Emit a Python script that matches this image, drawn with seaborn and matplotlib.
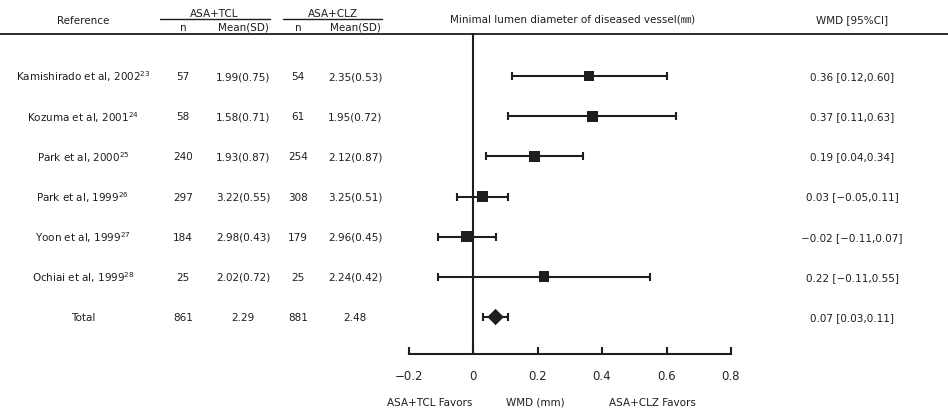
import numpy as np
import pandas as pd
import matplotlib
matplotlib.use("Agg")
import matplotlib.pyplot as plt
import matplotlib.transforms as mtransforms
from matplotlib.lines import Line2D
import seaborn as sns

# Study table
studies = ["Kamishirado et al, 2002$^{23}$", "Kozuma et al, 2001$^{24}$",
           "Park et al, 2000$^{25}$", "Park et al, 1999$^{26}$",
           "Yoon et al, 1999$^{27}$", "Ochiai et al, 1999$^{28}$", "Total"]
n_tcl = [57, 58, 240, 297, 184, 25, 861]
mean_tcl = ["1.99(0.75)", "1.58(0.71)", "1.93(0.87)", "3.22(0.55)",
            "2.98(0.43)", "2.02(0.72)", "2.29"]
n_clz = [54, 61, 254, 308, 179, 25, 881]
mean_clz = ["2.35(0.53)", "1.95(0.72)", "2.12(0.87)", "3.25(0.51)",
            "2.96(0.45)", "2.24(0.42)", "2.48"]

# Weighted mean differences with 95% CI
wmd = [0.36, 0.37, 0.19, 0.03, -0.02, 0.22, 0.07]
ci_lo = [0.12, 0.11, 0.04, -0.05, -0.11, -0.11, 0.03]
ci_hi = [0.60, 0.63, 0.34, 0.11, 0.07, 0.55, 0.11]
ci_text = ["0.36 [0.12,0.60]", "0.37 [0.11,0.63]", "0.19 [0.04,0.34]",
           "0.03 [\u22120.05,0.11]", "\u22120.02 [\u22120.11,0.07]",
           "0.22 [\u22120.11,0.55]", "0.07 [0.03,0.11]"]

xticks = [-0.2, 0, 0.2, 0.4, 0.6, 0.8]
xtick_labels = ["\u22120.2", "0", "0.2", "0.4", "0.6", "0.8"]

sns.set_theme(style="white")
plt.rcParams["font.family"] = ["DejaVu Sans", "Noto Sans CJK JP"]
plt.rcParams["mathtext.fontset"] = "dejavusans"

W, H = 948, 410
fig = plt.figure(figsize=(W / 100, H / 100), dpi=100)

# forest axes in pixel geometry
ax_l, ax_r, ax_t, ax_b = 400, 760, 34, 355
ax = fig.add_axes([ax_l / W, 1 - ax_b / H, (ax_r - ax_l) / W, (ax_b - ax_t) / H])
px_per_unit = 322.5
x0_px = 473
ax.set_xlim((ax_l - x0_px) / px_per_unit, (ax_r - x0_px) / px_per_unit)
row_sp = 40.17
ax.set_ylim((ax_b - 77) / row_sp, (ax_t - 77) / row_sp)

df = pd.DataFrame({"study": studies, "wmd": wmd, "lo": ci_lo, "hi": ci_hi,
                   "row": np.arange(len(studies)),
                   "kind": ["study"] * 6 + ["total"]})

ink = "#1e1e1e"
ax.axvline(0, color=ink, lw=1.5, zorder=1)
ax.errorbar(df["wmd"], df["row"],
            xerr=[df["wmd"] - df["lo"], df["hi"] - df["wmd"]],
            fmt="none", ecolor=ink, elinewidth=1.5, capsize=2.7,
            capthick=1.5, zorder=2)
sns.scatterplot(data=df, x="wmd", y="row", style="kind",
                markers={"study": "s", "total": "D"},
                size="kind", sizes={"study": 60, "total": 70},
                color=ink, edgecolor=ink, linewidth=0, legend=False,
                ax=ax, zorder=3)

for s in ["top", "right", "left"]:
    ax.spines[s].set_visible(False)
ax.spines["bottom"].set_bounds(-0.2, 0.8)
ax.spines["bottom"].set_color(ink)
ax.spines["bottom"].set_linewidth(1.5)
ax.set_xticks(xticks)
ax.set_xticklabels(xtick_labels, fontsize=8.5)
ax.tick_params(axis="x", direction="in", length=5, width=1.5, color=ink,
               pad=11, bottom=True)
ax.set_yticks([])
ax.set_xlabel("")
ax.set_ylabel("")

# table columns: x in figure pixels, y in data rows
tr = mtransforms.blended_transform_factory(fig.transFigure, ax.transData)
fs = 7.5
cols = [(83, studies), (183, n_tcl), (243, mean_tcl), (298, n_clz),
        (355, mean_clz), (852, ci_text)]
for xp, vals in cols:
    for i, v in enumerate(vals):
        ax.text(xp / W, i, str(v), transform=tr, ha="center", va="center",
                fontsize=fs, color=ink, clip_on=False)

def ftext(xp, yp, s, **kw):
    fig.text(xp / W, 1 - yp / H, s, ha="center", va="center",
             fontsize=fs, color=ink, **kw)

# header
ftext(83, 21, "Reference")
ftext(214, 14, "ASA+TCL")
ftext(333, 14, "ASA+CLZ")
ftext(183, 28, "n")
ftext(243, 28, "Mean(SD)")
ftext(298, 28, "n")
ftext(355, 28, "Mean(SD)")
ftext(573, 20, "Minimal lumen diameter of diseased vessel(\u339c)")
ftext(852, 20, "WMD [95%CI]")

for x1, x2 in [(160, 270), (283, 382)]:
    fig.add_artist(Line2D([x1 / W, x2 / W], [1 - 20 / H, 1 - 20 / H],
                          color=ink, lw=1.0))
fig.add_artist(Line2D([0, 1], [1 - 34.5 / H, 1 - 34.5 / H], color=ink, lw=1.3))

# footer
ftext(430, 403, "ASA+TCL Favors")
ftext(535, 403, "WMD (mm)")
ftext(652, 403, "ASA+CLZ Favors")

fig.savefig("out.png", dpi=100, facecolor="white")
